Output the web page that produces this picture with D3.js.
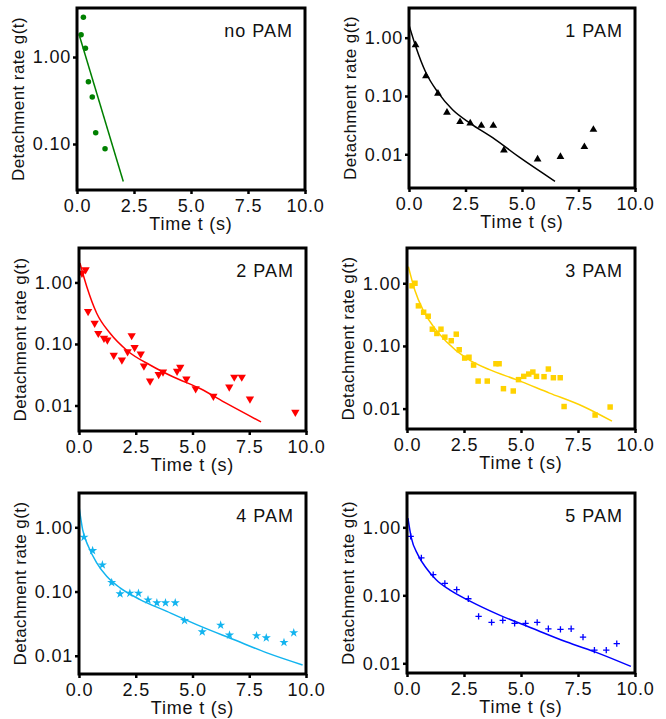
<!DOCTYPE html>
<html>
<head>
<meta charset="utf-8">
<script src="https://cdn.jsdelivr.net/npm/d3@7"></script>
<style>
  body { margin: 0; background: #fff; }
  svg text { font-family: "Liberation Sans", Arial, sans-serif; fill: #111; }
</style>
</head>
<body>
<div id="chart"></div>
<script>
const noPAM = [[0.18,1.80],[0.28,2.86],[0.37,1.26],[0.50,0.52],[0.67,0.347],[0.82,0.135],[1.23,0.088]];
const noPAMFit = [[0.12,1.71],[2.03,0.037]];

const onePAM = [[0.29,0.75],[0.75,0.22],[1.28,0.11],[1.68,0.052],[2.26,0.036],[2.71,0.034],[3.2,0.031],
  [3.73,0.031],[4.2,0.0117],[5.69,0.0082],[6.70,0.0091],[7.76,0.0134],[8.16,0.0265]];
const onePAMFit = [[0,1.65],[0.29,0.72],[0.75,0.25],[1.28,0.115],[1.93,0.058],[2.71,0.034],[3.7,0.0193],
  [4.88,0.0089],[6.46,0.00344]];

const twoPAM = [[0.13,1.42],[0.29,1.61],[0.40,0.337],[0.69,0.217],[0.85,0.149],[1.10,0.124],[1.25,0.116],
  [1.53,0.066],[1.89,0.055],[2.14,0.075],[2.32,0.137],[2.45,0.088],[2.72,0.069],[2.86,0.044],[3.13,0.025],
  [3.51,0.032],[3.70,0.035],[4.32,0.036],[4.46,0.042],[4.73,0.027],[5.14,0.0187],[5.92,0.0142],[6.62,0.020],
  [6.84,0.029],[7.17,0.029],[7.53,0.0128],[9.53,0.0078]];
const twoPAMFit = [[0.04,2.07],[0.34,0.86],[0.78,0.316],[1.37,0.149],[2.14,0.077],[3.13,0.0455],[4.16,0.029],
  [5.33,0.0189],[6.5,0.0108],[8.02,0.0054]];

const threePAM = [[0.22,0.91],[0.35,1.0],[0.50,0.436],[0.73,0.345],[0.93,0.298],[1.11,0.185],[1.31,0.158],
  [1.49,0.185],[1.66,0.138],[1.94,0.121],[2.16,0.154],[2.29,0.087],[2.53,0.064],[2.72,0.066],[2.92,0.0495],
  [3.12,0.0275],[3.52,0.0275],[3.90,0.052],[4.04,0.052],[4.23,0.0208],[4.66,0.0191],[4.89,0.029],[5.12,0.0327],
  [5.34,0.0356],[5.52,0.0383],[5.68,0.0327],[6.01,0.0323],[6.20,0.0428],[6.42,0.0311],[6.72,0.0311],
  [6.89,0.0108],[8.25,0.0079],[8.91,0.0106]];
const threePAMFit = [[0.06,1.84],[0.34,0.78],[0.70,0.376],[1.14,0.209],[1.72,0.118],[2.6,0.064],[3.62,0.0418],
  [4.79,0.029],[6.25,0.0177],[7.71,0.0109],[8.99,0.0063]];

const fourPAM = [[0.22,0.70],[0.60,0.434],[1.03,0.26],[1.44,0.138],[1.81,0.092],[2.24,0.094],[2.62,0.094],
  [3.04,0.074],[3.43,0.0667],[3.81,0.0667],[4.24,0.0667],[4.65,0.0354],[5.43,0.0236],[6.24,0.030],[6.63,0.021],
  [7.82,0.0205],[8.25,0.019],[9.03,0.0161],[9.46,0.0228]];
const fourPAMFit = [[0.01,2.0],[0.16,0.92],[0.41,0.507],[0.78,0.279],[1.22,0.173],[1.81,0.114],[2.69,0.075],
  [3.87,0.049],[5.34,0.0289],[6.81,0.0179],[8.28,0.0111],[9.85,0.0072]];

const fivePAM = [[0.16,0.736],[0.63,0.356],[1.15,0.202],[1.66,0.150],[2.18,0.121],[2.69,0.089],[3.14,0.049],
  [3.71,0.040],[4.20,0.0427],[4.72,0.0386],[5.20,0.0386],[5.71,0.040],[6.20,0.0322],[6.73,0.0315],[7.20,0.0322],
  [7.72,0.0242],[8.22,0.0156],[8.74,0.0156],[9.20,0.0195]];
const fivePAMFit = [[0.04,1.37],[0.19,0.70],[0.48,0.394],[0.85,0.25],[1.28,0.169],[1.87,0.12],[2.74,0.083],
  [4.06,0.0512],[5.52,0.0325],[6.98,0.0207],[8.44,0.0139],[9.82,0.0090]];

const titles = ["no PAM", "1 PAM", "2 PAM", "3 PAM", "4 PAM", "5 PAM"];
const colors = ["#008000", "#000000", "#ff0000", "#ffd200", "#12b4ef", "#0000ff"];
const yRanges = [[0.0296,3.66],[0.00264,3.23],[0.00385,3.63],[0.00473,3.65],[0.0052,3.42],[0.0072,3.2]];
const xTicks = [0, 2.5, 5, 7.5, 10];
const xTickLabels = ["0.0", "2.5", "5.0", "7.5", "10.0"];
const yTicks = [1, 0.1, 0.01];
const yTickLabels = ["1.00", "0.10", "0.01"];

const points = [noPAM, onePAM, twoPAM, threePAM, fourPAM, fivePAM];
const fits = [noPAMFit, onePAMFit, twoPAMFit, threePAMFit, fourPAMFit, fivePAMFit];

// layout: [left, top, width, height] of each plot frame
const frames = [[77,8,228,182],[409,8,226,180],[79,248,227,183],[407,248,228,181],[79,493,227,181],[407,493,228,180]];

const plusSymbol = {
  draw(ctx, size) {
    const r = Math.sqrt(size) / 2;
    ctx.moveTo(-r, 0); ctx.lineTo(r, 0);
    ctx.moveTo(0, -r); ctx.lineTo(0, r);
  }
};
const symbols = [
  {type: d3.symbolCircle, size: 24, rot: 0, stroke: false},
  {type: d3.symbolTriangle, size: 26, rot: 0, stroke: false},
  {type: d3.symbolTriangle, size: 30, rot: 180, stroke: false},
  {type: d3.symbolSquare, size: 30, rot: 0, stroke: false},
  {type: d3.symbolStar, size: 26, rot: 0, stroke: false},
  {type: plusSymbol, size: 40, rot: 0, stroke: true}
];

const svg = d3.select("#chart").append("svg")
  .attr("width", 666)
  .attr("height", 719);

titles.forEach((title, i) => {
  const [left, top, w, h] = frames[i];
  const x = d3.scaleLinear().domain([0, 10]).range([0, w]);
  const y = d3.scaleLog().domain(yRanges[i]).range([h, 0]);
  const g = svg.append("g").attr("transform", `translate(${left},${top})`);

  const lineGen = d3.line()
    .x(d => x(d[0]))
    .y(d => y(d[1]))
    .curve(d3.curveMonotoneX);

  g.append("path")
    .datum(fits[i])
    .attr("d", lineGen)
    .attr("fill", "none")
    .attr("stroke", colors[i])
    .attr("stroke-width", 1.5);

  const sym = symbols[i];
  g.selectAll(".pt")
    .data(points[i])
    .enter()
    .append("path")
      .attr("class", "pt")
      .attr("transform", d => `translate(${x(d[0])},${y(d[1])}) rotate(${sym.rot})`)
      .attr("d", d3.symbol().type(sym.type).size(sym.size))
      .attr("fill", sym.stroke ? "none" : colors[i])
      .attr("stroke", sym.stroke ? colors[i] : "none")
      .attr("stroke-width", 1.3);

  // only the decades inside this panel's range get a tick
  const yIdx = yTicks.map((v, k) => k).filter(k => yTicks[k] >= yRanges[i][0] && yTicks[k] <= yRanges[i][1]);

  const xAxis = g.append("g")
    .attr("transform", `translate(0,${h})`)
    .call(d3.axisBottom(x).tickValues(xTicks).tickFormat((d, k) => xTickLabels[k]).tickSize(4).tickPadding(5));
  const yAxis = g.append("g")
    .call(d3.axisLeft(y)
      .tickValues(yIdx.map(k => yTicks[k]))
      .tickFormat((d, k) => yTickLabels[yIdx[k]])
      .tickSize(4).tickPadding(2));

  [xAxis, yAxis].forEach(ax => {
    ax.select(".domain").remove();
    ax.selectAll(".tick line").attr("stroke", "#000").attr("stroke-width", 2.5);
    ax.selectAll(".tick text")
      .style("font-size", "18px")
      .style("letter-spacing", "0.8px")
      .attr("fill", "#111");
  });

  g.append("rect")
    .attr("width", w)
    .attr("height", h)
    .attr("fill", "none")
    .attr("stroke", "#000")
    .attr("stroke-width", 3);

  g.append("text")
    .attr("x", w - 12)
    .attr("y", 29)
    .attr("text-anchor", "end")
    .style("font-size", "18px")
    .style("letter-spacing", "1px")
    .text(title);

  g.append("text")
    .attr("x", w / 2)
    .attr("y", h + 40)
    .attr("text-anchor", "middle")
    .style("font-size", "18px")
    .style("letter-spacing", "0.8px")
    .text("Time t (s)");

  g.append("text")
    .attr("transform", `translate(-53,${h / 2}) rotate(-90)`)
    .attr("text-anchor", "middle")
    .style("font-size", "17px")
    .style("letter-spacing", "0.4px")
    .text("Detachment rate g(t)");
});
</script>
</body>
</html>
